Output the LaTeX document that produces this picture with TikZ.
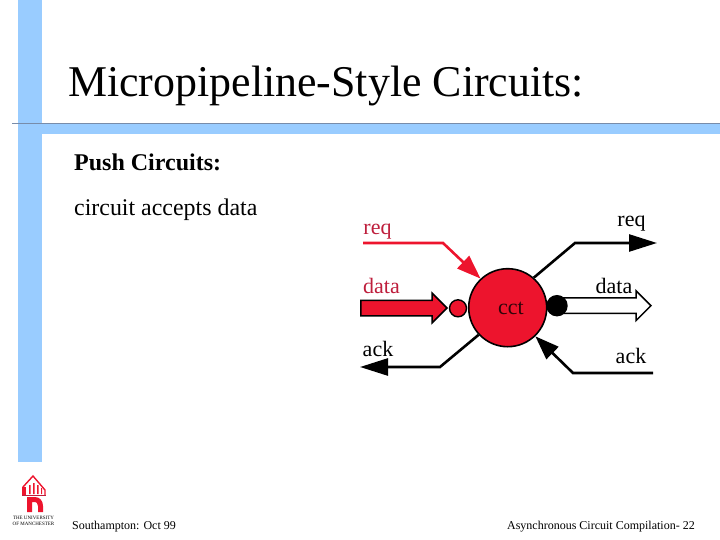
\documentclass[tikz,border=0pt]{standalone}
\usepackage{fontspec}
\setmainfont{Liberation Serif}
\usetikzlibrary{arrows.meta, shapes.arrows}
\definecolor{myBlue}{RGB}{153,204,255}
\definecolor{myRed}{RGB}{237,20,45}
\definecolor{myDarkRed}{RGB}{190,30,60}
\definecolor{myGrey}{RGB}{120,140,170}

\begin{document}
\begin{tikzpicture}[
  x=1pt, y=-1pt,
  label/.style={font=\fontsize{22}{26}\selectfont, anchor=base},
  wire/.style={line width=2.6pt, line cap=butt},
  head/.style={-{Triangle[length=24pt, width=17pt]}},
  longhead/.style={-{Triangle[length=28pt, width=17pt]}},
  bubble/.style={circle, draw=black, line width=1.4pt, inner sep=0pt},
  bigarrow/.style={single arrow, draw=black, line width=1.5pt, inner xsep=0pt, inner ysep=7pt,
    minimum width=28pt, single arrow head extend=7pt, anchor=tip},
]
  \useasboundingbox (0,0) rectangle (720,540);

  % page furniture
  \fill[myBlue] (18,0) rectangle (42,462);
  \fill[myBlue] (42,124) rectangle (720,134);
  \draw[myGrey, line width=0.8pt] (12,123.5) -- (720,123.5);

  \node[anchor=base west, inner sep=0pt, font=\fontsize{43.9}{50}\selectfont] (title) at (68,97) {Micropipeline-Style Circuits:};
  \node[anchor=base west, inner sep=0pt, font=\fontsize{24}{28}\selectfont\bfseries] (push) at (74,171) {Push Circuits:};
  \node[anchor=base west, inner sep=0pt, font=\fontsize{23.9}{28}\selectfont] (accepts) at (74,215) {circuit accepts data};
  \node[anchor=base west, inner sep=0pt, font=\fontsize{12}{14}\selectfont] (place) at (72,529) {Southampton: Oct 99};
  \node[anchor=base east, inner sep=0pt, font=\fontsize{12}{14}\selectfont] (page) at (695,529) {Asynchronous Circuit Compilation- 22};

  % logo
  \draw[myRed, line width=1.4pt] (23,495) -- (23,487) -- (33,476) -- (45,490) -- (45,495);
  \fill[myRed] (22,487) rectangle (25.5,495);
  \fill[myRed] (29,485) rectangle (30.5,494) (33,483) rectangle (34.5,494) (37,485) rectangle (38.5,494) (41,488) rectangle (42,494);
  \fill[myDarkRed] (22,494.5) rectangle (46,495.7);
  \fill[myRed] (27,512) -- (27,497) -- (35,497) .. controls (40,497) and (43,501) .. (43,506) -- (43,512) -- (38,512)
    -- (38,506) .. controls (38,503) and (36,502) .. (35,502) -- (32,502) -- (32,512) -- cycle;
  \node[inner sep=0pt, align=center, font=\fontsize{5}{6.5}\selectfont] (crest) at (33.5,521) {THE UNIVERSITY\\OF MANCHESTER};

  % the circuit
  \node[circle, draw=black, line width=1.6pt, fill=myRed, minimum size=78pt, inner sep=0pt] (cct) at (507.7,307.7) {};
  \node[font=\fontsize{22}{26}\selectfont, inner sep=0pt, text=black!80!myRed] (name) at (511,308) {cct};
  \node[bubble, fill=myRed, minimum size=17pt] (inb) at (458,308.3) {};

  \coordinate (reqinS) at (363,243);
  \coordinate (reqinB) at (443,243);
  \coordinate (ackoutB) at (440,367);
  \coordinate (ackoutE) at (360,367);
  \coordinate (reqoutB) at (575,243);
  \coordinate (reqoutE) at (657,243);
  \coordinate (ackinS) at (653,373);
  \coordinate (ackinB) at (573,373);

  \draw[wire, myRed, head] (reqinS) -- (reqinB) -- (cct.133);
  \draw[wire, longhead] (cct.223) -- (ackoutB) -- (ackoutE);
  \draw[wire, longhead] (cct.49) -- (reqoutB) -- (reqoutE);
  \draw[wire, head] (ackinS) -- (ackinB) -- (cct.-46);

  \node[bigarrow, fill=myRed, minimum height=86pt] (datain) at (448,308) {};
  \node[bigarrow, fill=white, minimum height=89pt] (dataout) at (652,305.7) {};
  \node[bubble, fill=black, minimum size=20pt] (outb) at (557,305.7) {};

  \node[label, text=myDarkRed] (reqinL) at (377.5,235) {req};
  \node[label, text=myDarkRed] (datainL) at (381.5,293) {data};
  \node[label] (ackoutL) at (378,356) {ack};
  \node[label] (reqoutL) at (631.5,226) {req};
  \node[label] (dataoutL) at (614,293) {data};
  \node[label] (ackinL) at (631,363) {ack};
\end{tikzpicture}
\end{document}
